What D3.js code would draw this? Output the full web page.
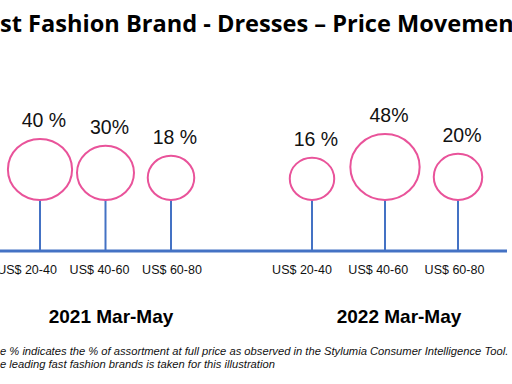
<!DOCTYPE html>
<html><head><meta charset="utf-8">
<script src="https://cdn.jsdelivr.net/npm/d3@7"></script>
<style>html,body{margin:0;padding:0;background:#fff;overflow:hidden}svg{display:block}</style>
</head><body>
<svg id="c" width="512" height="384"></svg>
<script>
// ---- data ----
const titleText = "Fast Fashion Brand - Dresses \u2013 Price Movement";
const categories = ["US$ 20-40", "US$ 40-60", "US$ 60-80"];
const periods = ["2021 Mar-May", "2022 Mar-May"];
const values2021 = [40, 30, 18];
const values2022 = [16, 48, 20];
const valueLabels2021 = ["40 %", "30%", "18 %"];
const valueLabels2022 = ["16 %", "48%", "20%"];
const footnote = [
  "The % indicates the % of assortment at full price as observed in the Stylumia Consumer Intelligence Tool.",
  "The leading fast fashion brands is taken for this illustration"
];

// ---- layout ----
const W = 512, H = 384;
const svg = d3.select("#c");
const pink = "#E9539A", blue = "#4472C4";
const baseY = 251, stemTop = 200;

const groups = [
  {period: periods[0], values: values2021, labels: valueLabels2021, stem: [40, 171], tick: [27, 172], center: 111},
  {period: periods[1], values: values2022, labels: valueLabels2022, stem: [312, 458], tick: [302, 454.5], center: 399}
];

const r = d3.scaleSqrt().domain([0, 48]).range([5, 33]);

// title (left/right ends clipped like the reference)
const title = svg.append("text")
  .attr("font-family", "Open Sans, Roboto, sans-serif").attr("font-weight", 700)
  .attr("font-size", 100).attr("fill", "#000").text("st Fashion Brand - Dresses \u2013 Price Movemen");
const w100 = title.node().getComputedTextLength();
const fs = 100 * 514 / w100;
title.attr("font-size", fs).text("Fa");
const prefixW = title.node().getComputedTextLength();
title.text(titleText).attr("x", -prefixW).attr("y", 32);

// baseline axis line
svg.append("line").attr("x1", 0).attr("x2", 507).attr("y1", baseY).attr("y2", baseY)
  .attr("stroke", blue).attr("stroke-width", 3);

groups.forEach(g => {
  const xs = d3.scalePoint().domain(categories).range(g.stem);
  const xt = d3.scalePoint().domain(categories).range(g.tick);
  const data = categories.map((c, i) => ({c, v: g.values[i], l: g.labels[i]}));
  const gg = svg.append("g");
  gg.selectAll("line.stem").data(data).join("line").attr("class", "stem")
    .attr("x1", d => xs(d.c)).attr("x2", d => xs(d.c))
    .attr("y1", stemTop).attr("y2", baseY)
    .attr("stroke", blue).attr("stroke-width", 2);
  gg.selectAll("ellipse").data(data).join("ellipse")
    .attr("cx", d => xs(d.c)).attr("cy", d => stemTop - r(d.v))
    .attr("rx", d => r(d.v) * 1.05).attr("ry", d => r(d.v))
    .attr("fill", "none").attr("stroke", pink).attr("stroke-width", 2);
  gg.selectAll("text.val").data(data).join("text").attr("class", "val")
    .attr("x", d => xs(d.c) + 4).attr("y", d => stemTop - 2 * r(d.v) - 12)
    .attr("text-anchor", "middle").attr("font-family", "Liberation Sans, Arial, sans-serif")
    .attr("font-size", 19.5).attr("fill", "#111").text(d => d.l);
  gg.selectAll("text.tick").data(data).join("text").attr("class", "tick")
    .attr("x", d => xt(d.c)).attr("y", 274)
    .attr("text-anchor", "middle").attr("font-family", "Liberation Sans, Arial, sans-serif")
    .attr("font-size", 12.5).attr("fill", "#111").text(d => d.c);
  svg.append("text").attr("x", g.center).attr("y", 323).attr("text-anchor", "middle")
    .attr("font-family", "Liberation Sans, Arial, sans-serif").attr("font-weight", 700)
    .attr("font-size", 19).attr("fill", "#000").text(g.period);
});

// footnote (left part clipped like the reference)
const fn = svg.append("g").attr("font-family", "Liberation Sans, Arial, sans-serif")
  .attr("font-style", "italic").attr("font-size", 11.2).attr("fill", "#111");
const probe = fn.append("text").text("Th");
const thW = probe.node().getComputedTextLength();
probe.remove();
fn.selectAll("text").data(footnote).join("text")
  .attr("x", -thW).attr("y", (d, i) => 355 + i * 12.5).text(d => d);
</script>
</body></html>
